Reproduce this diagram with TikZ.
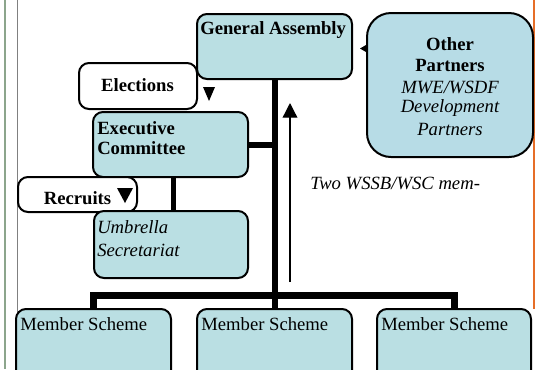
\documentclass[tikz,border=0pt]{standalone}
\usepackage{fontspec}
\setmainfont{Liberation Serif}[ItalicFont={Liberation Serif Italic},BoldFont={Liberation Serif Bold},BoldItalicFont={Liberation Serif Bold Italic}]
\usetikzlibrary{arrows.meta}
\definecolor{boxfill}{RGB}{186,223,227}
\definecolor{opfill}{RGB}{183,220,230}
\definecolor{greenline}{RGB}{140,165,140}
\definecolor{orangeline}{RGB}{230,110,40}
\tikzset{
  box/.style={draw=black, line width=1.5pt, rounded corners=7.5pt, fill=boxfill, inner sep=0pt},
  wbox/.style={box, fill=white},
  txt/.style={inner sep=0pt, anchor=west},
  ctxt/.style={inner sep=0pt, anchor=center},
  trunk/.style={line width=4.5pt},
  marker/.style={fill=black},
}
\begin{document}
\begin{tikzpicture}[x=0.75pt,y=-0.75pt,font=\fontsize{14}{16}\selectfont]
\useasboundingbox (0,0) rectangle (535,369);
\clip (0,0) rectangle (535,369);
% page edge lines
\draw[greenline, line width=1.5pt] (5,0) -- (5,369);
\draw[gray, line width=0.75pt] (17,0) -- (17,369);
\draw[orangeline, line width=1.5pt] (534,0) -- (534,309);
% boxes
\node[wbox, minimum width=88.5pt, minimum height=34.5pt] (el) at (138,86) {};
\node[box, minimum width=116.25pt, minimum height=48.75pt] (ga) at (274.5,46.5) {};
\node[box, minimum width=116.25pt, minimum height=48.75pt] (ex) at (170.5,144.5) {};
\node[wbox, minimum width=89.25pt, minimum height=26.25pt] (rc) at (77.5,194.5) {};
\node[box, minimum width=115.5pt, minimum height=50.25pt] (um) at (171,244.5) {};
\node[box, fill=opfill, rounded corners=18pt, minimum width=124.5pt, minimum height=108pt] (op) at (450,85) {};
\node[box, minimum width=116.25pt, minimum height=60.75pt] (ms1) at (93.5,349.5) {};
\node[box, minimum width=116.25pt, minimum height=60.75pt] (ms2) at (274.5,349.5) {};
\node[box, minimum width=115.5pt, minimum height=60.75pt] (ms3) at (454,349.5) {};
% connectors
\coordinate (bar) at (274.5,295);
\draw[trunk] (ga.south) -- (ms2.north);
\draw[line width=5.25pt] (ms1.north) |- (bar) -| (ms3.north);
\draw[trunk] (ex.east) -- (ex.east -| ga.south);
\draw[line width=3.75pt] ([xshift=2.6pt]ex.south) -- ([xshift=2.6pt]ex.south |- um.north);
\coordinate (arrbot) at (290,282);
\coordinate (arrtop) at (290,103);
\draw[line width=1pt, -{Triangle[width=11pt,length=11pt]}] (arrbot) -- (arrtop);
% small markers
\fill[marker] (203,87) -- (215,87) -- (209,101) -- cycle;
\fill[marker] (117,188) -- (133,188) -- (125,203) -- cycle;
\fill[marker] (360,48.5) -- (366,45) -- (366,52) -- cycle;
% texts
\node[txt, font=\fontsize{14}{16}\selectfont\bfseries] (gat) at (200,30) {General Assembly};
\node[ctxt, font=\fontsize{14}{16}\selectfont\bfseries] (elt) at (137.5,85) {Elections};
\node[txt, font=\fontsize{14}{16}\selectfont\bfseries] (ext1) at (97,128.5) {Executive};
\node[txt, font=\fontsize{14}{16}\selectfont\bfseries] (ext2) at (97,148.5) {Committee};
\node[ctxt, font=\fontsize{14}{16}\selectfont\bfseries] (rct) at (77.5,198) {Recruits};
\node[txt, font=\fontsize{14}{16}\selectfont\itshape] (umt1) at (97,227) {Umbrella};
\node[txt, font=\fontsize{14}{16}\selectfont\itshape] (umt2) at (97,250.5) {Secretariat};
\node[ctxt, font=\fontsize{14}{16}\selectfont\bfseries] (opt1) at (450,44) {Other};
\node[ctxt, font=\fontsize{14}{16}\selectfont\bfseries] (opt2) at (450,65) {Partners};
\node[ctxt, font=\fontsize{14}{16}\selectfont\itshape] (opt3) at (450,87) {MWE/WSDF};
\node[ctxt, font=\fontsize{14}{16}\selectfont\itshape] (opt4) at (450,108) {Development};
\node[ctxt, font=\fontsize{14}{16}\selectfont\itshape] (opt5) at (450,129) {Partners};
\node[txt, font=\fontsize{14}{16}\selectfont\itshape] (two) at (310,183) {Two WSSB/WSC mem-};
\node[txt] (mst1) at (20,324) {Member Scheme};
\node[txt] (mst2) at (201,324) {Member Scheme};
\node[txt] (mst3) at (381,324) {Member Scheme};
\end{tikzpicture}
\end{document}
